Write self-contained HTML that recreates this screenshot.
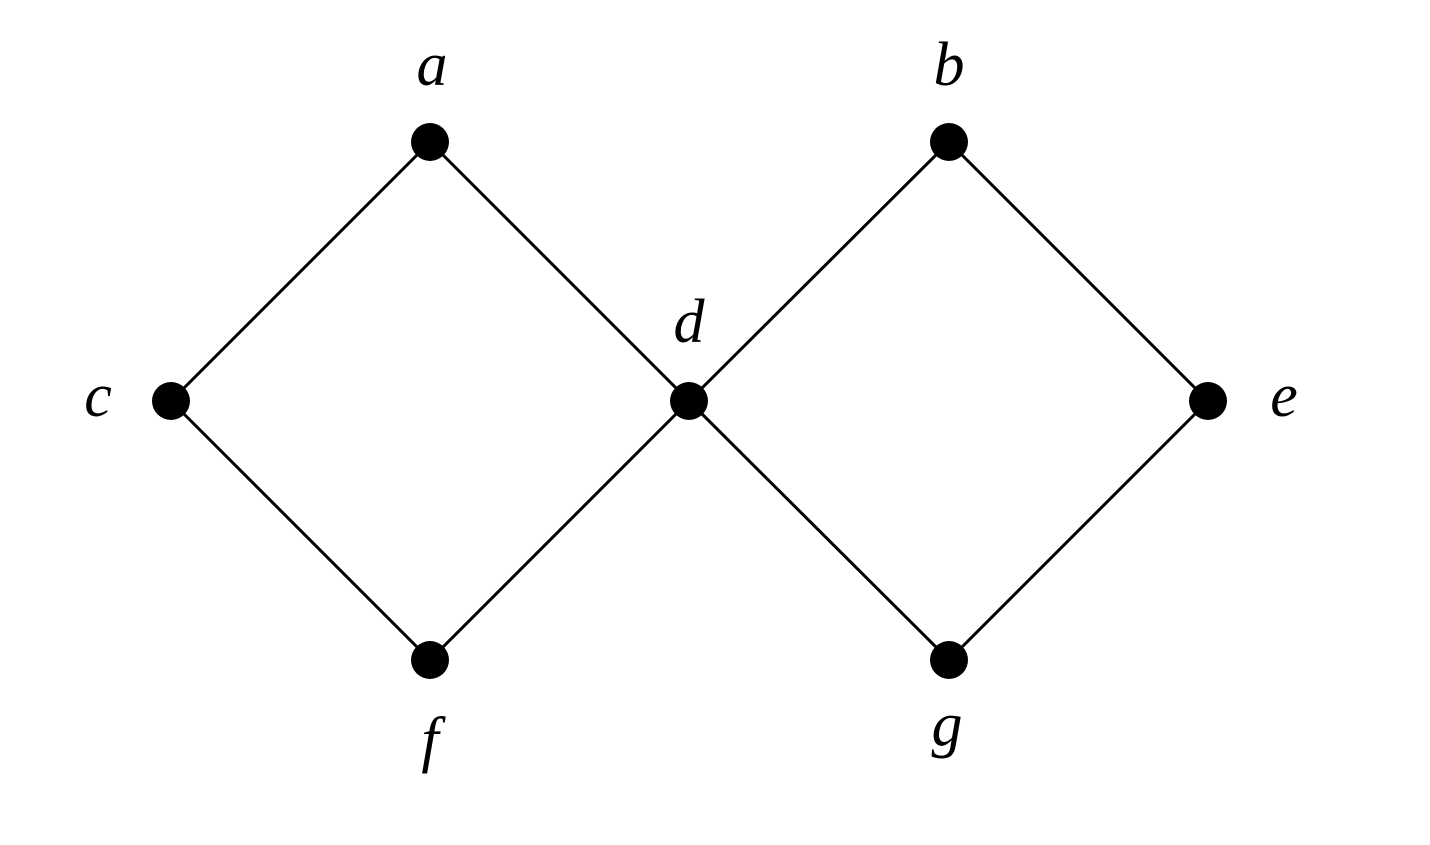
<!DOCTYPE html>
<html><head><style>html,body{margin:0;padding:0;background:#fff;}</style></head>
<body>
<svg width="1430" height="840" xmlns="http://www.w3.org/2000/svg">
<g stroke="#000" stroke-width="3" fill="none">
<line x1="430" y1="142" x2="171" y2="401"/>
<line x1="430" y1="142" x2="689" y2="401"/>
<line x1="171" y1="401" x2="430" y2="660"/>
<line x1="689" y1="401" x2="430" y2="660"/>
<line x1="949" y1="142" x2="689" y2="401"/>
<line x1="949" y1="142" x2="1208" y2="401"/>
<line x1="689" y1="401" x2="949" y2="660"/>
<line x1="1208" y1="401" x2="949" y2="660"/>
</g>
<g fill="#000">
<circle cx="430" cy="142" r="19"/>
<circle cx="949" cy="142" r="19"/>
<circle cx="171" cy="401" r="19"/>
<circle cx="689" cy="401" r="19"/>
<circle cx="1208" cy="401" r="19"/>
<circle cx="430" cy="660" r="19"/>
<circle cx="949" cy="660" r="19"/>
</g>
<g font-family="Liberation Serif, serif" font-style="italic" font-size="62" text-anchor="middle" fill="#000">
<text x="432" y="85">a</text>
<text x="949" y="85">b</text>
<text x="98" y="416">c</text>
<text x="689" y="342">d</text>
<text x="1284" y="416">e</text>
<text x="430" y="760">f</text>
<text x="947" y="745">g</text>
</g>
</svg>
</body></html>
